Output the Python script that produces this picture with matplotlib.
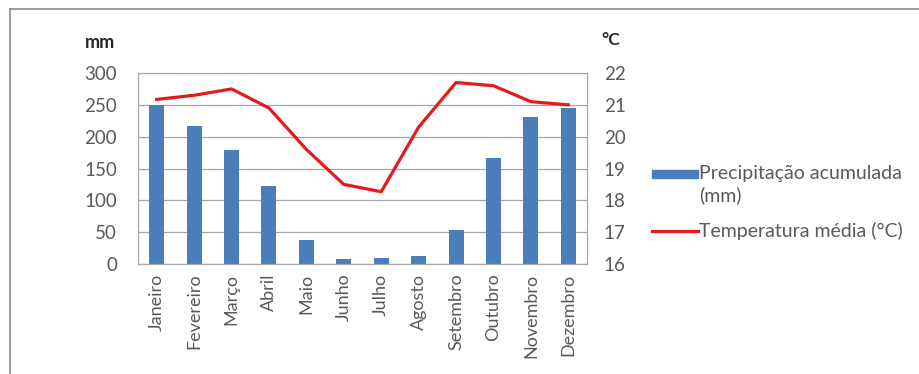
import numpy as np
import matplotlib.pyplot as plt
from matplotlib.lines import Line2D
from matplotlib.patches import Rectangle

meses = ["Janeiro", "Fevereiro", "Março", "Abril", "Maio", "Junho", "Julho",
         "Agosto", "Setembro", "Outubro", "Novembro", "Dezembro"]
precipitacao = [249, 216, 179, 122, 37, 8, 9, 12, 53, 166, 231, 245]
temperatura = [21.17, 21.3, 21.5, 20.9, 19.6, 18.5, 18.27, 20.3, 21.7, 21.6, 21.1, 21.0]

plt.rcParams['font.family'] = ['Lato', 'DejaVu Sans']
cinza = '#595959'
azul = '#4a7ebb'
vermelho = '#e41a1c'

fig = plt.figure(figsize=(9.19, 3.74), dpi=100)
ax = fig.add_axes([138/919, 1-264/374, 449/919, 191/374])
x = np.arange(len(meses))

ax.bar(x, precipitacao, width=0.4, color=azul, zorder=2)
ax.set_xlim(-0.5, 11.5)
ax.set_ylim(0, 300)
ax.set_yticks(range(0, 301, 50))
ax.grid(axis='y', color='#a6a6a6', lw=0.9, zorder=0)
ax.set_xticks(x)
ax.set_xticklabels(meses, rotation=90, fontsize=13, color=cinza)
ax.tick_params(axis='y', length=0, pad=15, colors=cinza, labelsize=13.5)
ax.tick_params(axis='x', length=0, pad=7, colors=cinza)
for s in ax.spines.values():
    s.set_color('#a6a6a6')

ax2 = ax.twinx()
ax2.plot(x, temperatura, color=vermelho, lw=2.3, zorder=3)
ax2.set_ylim(16, 22)
ax2.set_yticks(range(16, 23))
ax2.tick_params(axis='y', length=0, pad=12, colors=cinza, labelsize=13.5)
for s in ax2.spines.values():
    s.set_color('#a6a6a6')

fig.text(100/919, 1-42/374, 'mm', ha='center', va='center', fontsize=13, weight='bold', color='#262626')
fig.text(611/919, 1-40/374, '°C', ha='center', va='center', fontsize=12.5, weight='bold', color='#262626')

# legenda desenhada a mao (Excel alinha o simbolo com a primeira linha)
fig.add_artist(Rectangle((652/919, 1-178/374), 46/919, 8/374, color=azul,
                         transform=fig.transFigure))
fig.text(699/919, 1-173/374, 'Precipitação acumulada', va='center', fontsize=14, color=cinza)
fig.text(699/919, 1-195/374, '(mm)', va='center', fontsize=14, color=cinza)
fig.add_artist(Line2D([652/919, 698/919], [1-231/374, 1-231/374], color=vermelho, lw=2.3))
fig.text(699/919, 1-231/374, 'Temperatura média (°C)', va='center', fontsize=14, color=cinza)

fig.add_artist(Line2D([10/919, 1], [1-9/374, 1-9/374], color='#8c8c8c', lw=1.2))
fig.add_artist(Line2D([10/919, 10/919], [0, 1-9/374], color='#8c8c8c', lw=1.2))

fig.savefig('out.png', dpi=100)
